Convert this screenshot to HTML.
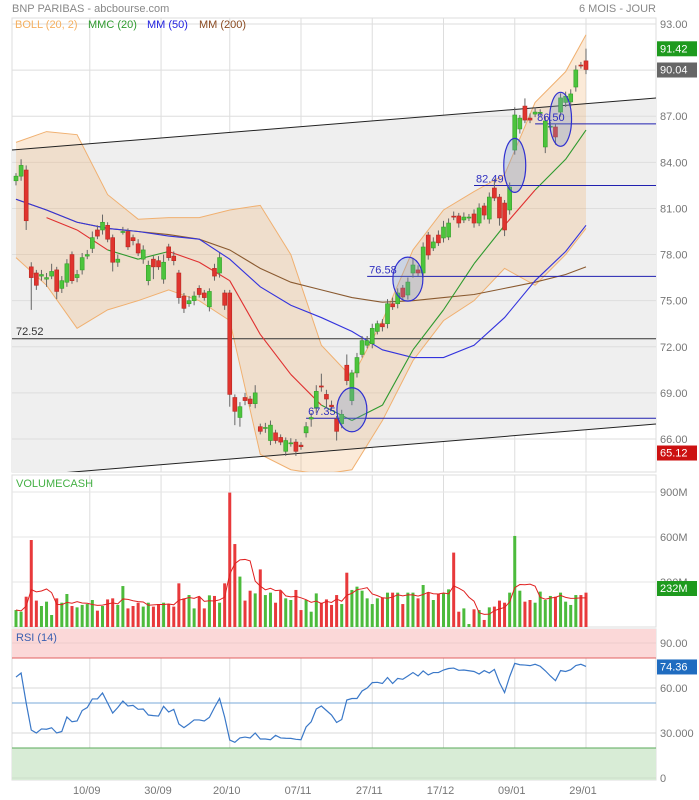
<!DOCTYPE html>
<html><head><meta charset="utf-8"><style>
body{margin:0;background:#fff;}
svg{display:block;font-family:"Liberation Sans",sans-serif;}
</style></head><body>
<svg id="chart" width="699" height="800" viewBox="0 0 699 800" xmlns="http://www.w3.org/2000/svg">
<defs><clipPath id="pclip"><rect x="12" y="18" width="644" height="454"/></clipPath></defs>
<rect x="0" y="0" width="699" height="800" fill="#fff"/>
<text x="12" y="12" font-size="11" fill="#888">BNP PARIBAS - abcbourse.com</text>
<text x="656" y="12" font-size="11" fill="#888" text-anchor="end">6 MOIS - JOUR</text>
<g id="grid"></g>
<g id="price"></g>
<g id="vol"></g>
<g id="rsi"></g>
<g id="axes"></g>
</svg>
<script>
const opens=[82.8,83.1,83.5,77.2,76.8,76.6,76.4,76.6,77.0,75.8,76.2,78.0,76.5,77.0,77.9,78.4,79.6,79.6,79.9,79.1,77.5,79.5,79.5,79.1,78.7,77.7,76.3,77.7,77.6,76.4,78.5,77.9,76.8,75.3,74.8,75.0,75.8,75.5,74.6,77.1,76.8,75.5,75.5,68.7,67.4,68.7,68.6,68.3,66.8,66.7,65.9,66.4,66.1,65.2,65.7,65.8,65.6,66.4,67.3,68.0,69.45,68.9,68.2,67.3,67.0,70.8,68.5,70.3,71.5,72.1,72.2,73.0,73.5,73.5,74.8,74.8,75.82,75.37,76.8,77.0,76.8,79.27,78.43,79.27,79.08,79.14,80.5,80.51,80.25,80.38,80.64,80.05,81.16,80.31,82.33,81.74,81.35,80.9,84.8,86.17,87.66,86.88,87.14,87.2,85.0,86.3,86.3,87.27,87.9,87.93,88.9,90.33,90.6];
const closes=[83.1,83.8,80.2,76.5,76.0,76.7,76.5,76.9,75.6,76.3,77.4,76.3,76.7,77.8,78.0,79.1,79.2,80.1,79.0,77.5,77.7,79.5,78.5,78.9,78.1,78.3,77.3,77.2,77.2,77.5,77.8,77.6,75.2,74.5,75.0,75.3,75.4,75.2,75.6,76.6,77.8,74.7,68.9,67.8,68.1,68.5,68.3,69.0,66.5,66.75,66.9,65.9,65.8,65.9,65.75,65.2,65.5,66.8,67.4,69.1,69.38,68.6,68.1,66.5,67.6,69.8,70.3,71.3,72.4,72.4,73.2,73.5,73.3,74.8,74.6,75.5,75.24,76.21,77.32,76.8,78.49,77.97,78.82,78.76,79.79,80.05,80.44,80.05,80.44,80.44,80.05,81.03,80.57,81.74,81.68,80.38,79.6,82.39,87.08,86.88,86.75,86.75,87.27,87.25,86.69,86.35,85.65,88.19,88.3,88.45,90.01,90.3,90.04];
const wickHi=[0.2,0.4,0.3,0.3,0.2,0.3,0.3,0.5,0.2,0.3,0.3,0.2,0.3,0.3,0.3,0.4,0.3,0.5,0.2,0.2,0.3,0.3,0.2,0.2,0.3,0.3,0.3,0.2,0.3,0.5,0.2,0.3,0.2,0.2,0.3,0.3,0.2,0.2,0.2,0.3,0.3,0.2,0.2,0.2,0.3,0.3,0.2,0.5,0.2,0.3,0.3,0.2,0.2,0.2,0.3,0.2,0.2,0.3,0.3,0.4,0.8,0.3,0.3,0.2,0.3,0.7,0.2,0.3,0.3,0.3,0.3,0.2,0.3,0.3,0.4,0.3,0.2,0.3,0.4,0.3,0.3,0.2,0.3,0.3,0.4,0.3,0.3,0.2,0.3,0.2,0.3,0.3,0.2,0.3,0.6,0.2,0.2,0.3,0.5,0.2,0.5,0.3,0.3,0.2,0.3,0.3,0.2,0.3,0.3,0.3,0.3,0.2,0.8];
const wickLo=[0.3,0.3,0.6,2.1,0.3,0.3,0.5,0.2,0.5,0.3,0.3,0.2,0.3,0.3,0.2,0.3,0.2,0.3,0.2,0.6,0.3,0.2,0.2,0.3,0.2,0.3,0.3,0.8,0.2,0.3,0.2,0.3,0.4,0.3,0.2,0.3,0.2,0.2,0.3,0.3,0.3,0.3,0.8,0.9,0.6,0.3,0.2,0.3,0.2,0.3,0.3,0.2,0.2,0.3,0.2,0.3,0.2,0.3,0.5,0.3,0.3,0.6,0.2,0.6,0.3,0.3,0.3,0.3,0.2,0.2,0.3,0.2,0.3,0.3,0.2,0.3,0.2,0.3,0.3,0.2,0.3,0.3,0.2,0.2,0.3,0.2,0.2,0.3,0.2,0.2,0.3,0.2,0.3,0.3,0.2,0.5,0.4,0.3,0.3,0.3,0.2,0.2,0.2,0.2,0.4,0.2,0.5,0.3,0.3,0.3,0.3,0.2,0.3];
const volumes=[113,102,202,580,176,140,169,80,191,162,220,140,131,147,153,180,109,140,184,191,147,273,124,140,162,136,162,136,153,162,153,136,291,191,213,124,202,124,211,207,162,291,896,553,336,176,242,224,384,213,229,162,242,191,180,247,113,180,102,224,162,184,147,213,153,362,247,269,242,191,153,191,196,229,229,229,153,229,229,191,280,229,180,220,224,251,496,102,124,20,118,113,47,131,136,176,162,229,607,242,169,180,162,236,180,207,202,229,169,147,213,213,229];
const rsiValues=[67.3,70,50,32,30,32.7,32.5,33.5,30,31,40.7,37.5,38,45,47,52.7,52.7,56.7,50,43.3,47,51.3,48,48.4,45.8,46,42,41.6,41.3,47.8,44,45.8,36,33.6,36,38.7,38.7,38,40.4,47,53,40.6,25.3,23.8,26.7,27.3,26.7,30,26,26,25.5,28.4,26.7,26.5,26.4,25.8,25.5,34,37.5,46,48,45,42,37,39,52,53,53,58,60,63.6,63.8,63,67,63,66.4,65.8,68,70.3,68,71.4,68.7,70.3,70.3,72,73,73.3,71.8,72,71.5,71,69.3,71.6,70,72.4,63.6,57,67.6,76.4,75.5,75.3,74.9,75.8,74.5,71.5,68,64.9,71.6,71,72.2,75,75.8,74.4];
const knotIdx=[0,6,12,18,24,30,36,42,48,54,60,66,72,78,84,90,96,102,108,112];
const bollUpper=[85.3,86.0,85.8,81.9,80.3,80.4,80.4,80.9,81.2,78.0,72.1,70.0,73.7,78.3,80.9,82.1,83.2,87.9,89.9,92.3];
const bollLower=[77.8,76.0,73.2,74.4,75.0,75.7,75.0,73.7,65.0,64.0,63.7,64.0,67.2,71.1,73.7,75.0,77.1,76.0,78.0,79.7];
const mmc20=[null,80.4,79.6,78.3,77.7,78.2,77.5,76.3,72.8,70.2,68.2,67.2,68.2,71.8,74.4,77.4,79.9,82.2,84.2,86.1];
const mm50=[81.6,80.9,80.1,79.7,79.5,79.2,79.0,77.7,75.9,74.7,73.9,73.0,71.8,71.3,71.3,72.1,73.9,76.3,78.2,79.9];
const mm200=[81.6,80.9,80.1,79.7,79.5,79.3,79.0,78.3,77.1,76.2,75.7,75.2,74.9,75.0,75.2,75.4,75.8,76.2,76.7,77.2];
const priceTicks=[93,90,87,84,81,78,75,72,69,66];
const volTicks=[900,600,300];
const rsiTicks=[90,60,30,0];
const rsiTickLabels=["90.00","60.00","30.000","0"];
const dateLabels=["10/09","30/09","20/10","07/11","27/11","17/12","09/01","29/01"];
const dateIdx=[14.5,28.5,42,56,70,84,98,112];
const levels=[67.35,76.58,82.49,86.50];
const levelStartIdx=[57,69,90,102];
const ellipseIdx=[66,77,98,107];
const ellipsePrice=[67.9,76.4,83.8,86.8];

const NS="http://www.w3.org/2000/svg";
const N=closes.length;
const xI=i=>16+i*(570/(N-1));
const yP=p=>24+(93-p)*15.37;
const yV=v=>627-v*0.15;
const yR=r=>778-r*1.5;
function mk(parent,tag,attrs,text){const e=document.createElementNS(NS,tag);for(const k in attrs)e.setAttribute(k,attrs[k]);if(text!==undefined)e.textContent=text;parent.appendChild(e);return e;}
const G=document.getElementById('grid'),P=document.getElementById('price'),V=document.getElementById('vol'),R=document.getElementById('rsi'),A=document.getElementById('axes');

// panel backgrounds
let e;
e=mk(G,'rect',{x:12,y:18,width:644,height:454,fill:'#fff',stroke:'#ddd'});


e=mk(G,'rect',{x:12,y:475,width:644,height:152,fill:'#fff',stroke:'#ddd'});


e=mk(G,'rect',{x:12,y:629,width:644,height:151,fill:'#fff',stroke:'#ddd'});



// trend channel gray zone
const PC=mk(P,'g',{'clip-path':'url(#pclip)'});
e=mk(PC,'polygon',{points:'12,150 656,98 656,424 12,477',fill:'#efefef'});



// grid lines
priceTicks.forEach(t=>{mk(PC,'line',{x1:12,x2:656,y1:yP(t),y2:yP(t),stroke:'#dedede'});});
volTicks.forEach(t=>{mk(V,'line',{x1:12,x2:656,y1:yV(t),y2:yV(t),stroke:'#e6e6e6'});});
rsiTicks.forEach(t=>{mk(R,'line',{x1:12,x2:656,y1:yR(t),y2:yR(t),stroke:'#e6e6e6'});});
dateIdx.forEach(d=>{const x=xI(d);[[18,472],[475,627],[629,780]].forEach(r=>mk(G,'line',{x1:x,x2:x,y1:r[0],y2:r[1],stroke:'#ddd'}));});

// bollinger band
const kx=knotIdx.map(xI);
let bp=knotIdx.map((k,j)=>kx[j]+','+yP(bollUpper[j])).concat(knotIdx.map((k,j)=>kx[j]+','+yP(bollLower[j])).reverse());
e=mk(PC,'polygon',{points:bp.join(' '),fill:'rgba(240,170,100,0.25)',stroke:'none'});


e=mk(PC,'polyline',{points:knotIdx.map((k,j)=>kx[j]+','+yP(bollUpper[j])).join(' '),fill:'none',stroke:'#f0b070','stroke-width':1});


e=mk(PC,'polyline',{points:knotIdx.map((k,j)=>kx[j]+','+yP(bollLower[j])).join(' '),fill:'none',stroke:'#f0b070','stroke-width':1});



// trend lines & level
e=mk(PC,'line',{x1:12,y1:150,x2:656,y2:98,stroke:'#222','stroke-width':1});


e=mk(PC,'line',{x1:12,y1:477,x2:656,y2:424,stroke:'#222','stroke-width':1});


e=mk(PC,'line',{x1:12,x2:656,y1:yP(72.52),y2:yP(72.52),stroke:'#333'});


e=mk(P,'text',{x:16,y:yP(72.52)-4,'font-size':11,fill:'#333'},'72.52');



// moving averages
function line(vals,color,name){const pts=[];vals.forEach((v,j)=>{if(v!==null)pts.push(kx[j]+','+yP(v));});const l=mk(PC,'polyline',{points:pts.join(' '),fill:'none',stroke:color,'stroke-width':1.1});}
line(mm200,'#8a5a30','mm200-line');
line(mm50,'#3333dd','mm50-line');
for(let j=1;j<knotIdx.length-1;j++){
  if(mmc20[j]===null)continue;
  const ci=knotIdx[j];const col=closes[ci]>=mmc20[j]?'#2e9a2e':'#e03030';
  const s=mk(PC,'line',{x1:kx[j],y1:yP(mmc20[j]),x2:kx[j+1],y2:yP(mmc20[j+1]),stroke:col,'stroke-width':1.1});
  
  
}

// levels
levels.forEach((lv,j)=>{
  const x0=xI(levelStartIdx[j]);
  const l=mk(PC,'line',{x1:x0,x2:656,y1:yP(lv),y2:yP(lv),stroke:'#2020b0'});
  
  
  const t=mk(P,'text',{x:x0+2,y:yP(lv)-3,'font-size':11,fill:'#3030c0'},lv.toFixed(2));
  
  
});

// candles
for(let i=0;i<N;i++){
  const o=opens[i],c=closes[i],up=c>=o;const x=xI(i);
  const hi=Math.max(o,c)+wickHi[i],lo=Math.min(o,c)-wickLo[i];
  const w=mk(PC,'line',{x1:x,x2:x,y1:yP(hi),y2:yP(lo),stroke:'#666','stroke-width':1});
  
  
  const top=yP(Math.max(o,c)),h=Math.max(1,Math.abs(yP(o)-yP(c)));
  const b=mk(PC,'rect',{x:x-2,y:top,width:4,height:h,fill:up?'#4cc43c':'#e0342e',stroke:up?'#35a02a':'#b82822','stroke-width':0.6});
  
  
}
// ellipses
ellipseIdx.forEach((ei,j)=>{
  const rx=j<2?15:11,ry=j<2?22:27;
  const el=mk(PC,'ellipse',{cx:xI(ei),cy:yP(ellipsePrice[j]),rx:rx,ry:ry,fill:'rgba(120,150,200,0.3)',stroke:'#3030d0','stroke-width':1.2});
  
  
});

// legend
[['BOLL (20, 2)','#f5b060',15],['MMC (20)','#2e9a2e',88],['MM (50)','#2020e0',147],['MM (200)','#8a4a20',199]].forEach(l=>{
  const t=mk(P,'text',{x:l[2],y:28,'font-size':11,fill:l[1]},l[0]);
  
  
});

// price axis labels
priceTicks.forEach(t=>{const tx=mk(A,'text',{x:660,y:yP(t)+4,'font-size':11,fill:'#777'},t.toFixed(2));});
[[91.42,'#1e9a1e'],[90.04,'#666'],[65.12,'#cc1111']].forEach(b=>{
  const y=yP(b[0]);
  const r=mk(A,'rect',{x:657,y:y-7,width:40,height:15,fill:b[1]});
  
  
  const t=mk(A,'text',{x:660,y:y+4,'font-size':11,fill:'#fff'},b[0].toFixed(2));
  
  
});

// volume
e=mk(V,'text',{x:16,y:487,'font-size':11,fill:'#44b044'},'VOLUMECASH');


for(let i=0;i<N;i++){
  const up=closes[i]>=opens[i];
  const b=mk(V,'rect',{x:xI(i)-1.5,y:yV(volumes[i]),width:3,height:627-yV(volumes[i]),fill:up?'#4cbb3c':'#e8393b'});
  
  
}
const ma=[];for(let i=0;i<N;i++){const s=volumes.slice(Math.max(0,i-4),i+1);ma.push(s.reduce((a,b)=>a+b,0)/s.length);}
e=mk(V,'polyline',{points:ma.map((v,i)=>xI(i)+','+yV(v)).join(' '),fill:'none',stroke:'#e02020','stroke-width':1});


volTicks.forEach(t=>{const tx=mk(A,'text',{x:660,y:yV(t)+4,'font-size':11,fill:'#777'},t+'M');});
e=mk(A,'rect',{x:657,y:581,width:40,height:15,fill:'#1e9a1e'});


e=mk(A,'text',{x:660,y:592,'font-size':11,fill:'#fff'},'232M');



// rsi
e=mk(R,'rect',{x:12,y:yR(100)<629?629:yR(100),width:644,height:yR(80)-629,fill:'#fbd8d8'});


e=mk(R,'rect',{x:12,y:yR(20),width:644,height:780-yR(20),fill:'#d8ecd6'});


rsiTicks.forEach(t=>{mk(R,'line',{x1:12,x2:656,y1:yR(t),y2:yR(t),stroke:'rgba(0,0,0,0.06)'});});
mk(R,'line',{x1:12,x2:656,y1:yR(80),y2:yR(80),stroke:'#e06060'});
mk(R,'line',{x1:12,x2:656,y1:yR(50),y2:yR(50),stroke:'#7aaad8'});
mk(R,'line',{x1:12,x2:656,y1:yR(20),y2:yR(20),stroke:'#5aaa5a'});
e=mk(R,'text',{x:16,y:641,'font-size':11,fill:'#3a5fb0'},'RSI (14)');


e=mk(R,'polyline',{points:rsiValues.map((v,i)=>xI(i)+','+yR(v)).join(' '),fill:'none',stroke:'#3a78c8','stroke-width':1.2});


rsiTicks.forEach((t,j)=>{const tx=mk(A,'text',{x:660,y:yR(t)+4,'font-size':11,fill:'#777'},rsiTickLabels[j]);});
e=mk(A,'rect',{x:657,y:yR(74.36)-7,width:40,height:15,fill:'#1f6cc0'});


e=mk(A,'text',{x:660,y:yR(74.36)+4,'font-size':11,fill:'#fff'},'74.36');



// dates
dateLabels.forEach((d,j)=>{const t=mk(A,'text',{x:xI(dateIdx[j])-3,y:794,'font-size':11,fill:'#777','text-anchor':'middle'},d);});
</script>
</body></html>
